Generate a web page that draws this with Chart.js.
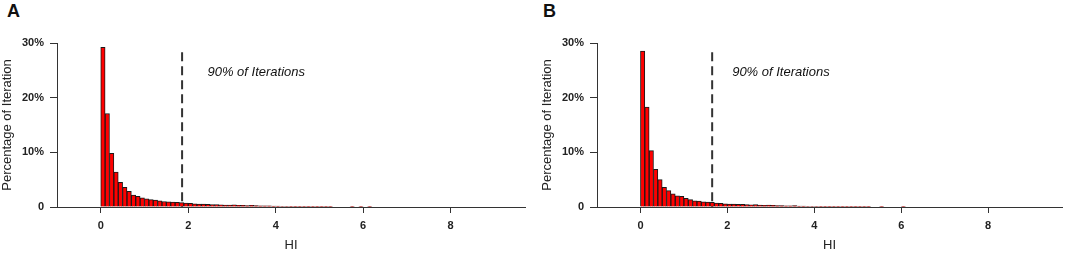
<!DOCTYPE html>
<html>
<head>
<meta charset="utf-8">
<script src="https://cdn.jsdelivr.net/npm/chart.js@4"></script>
<style>
  body { margin: 0; background: #fff; width: 1065px; height: 253px; position: relative; overflow: hidden; }
  .panel { position: absolute; top: 0; }
  .tag { position: absolute; top: 2px; font: bold 18px 'Liberation Sans', Arial, sans-serif; color: #111; line-height: 1; }
</style>
</head>
<body>
<div class="tag" style="left:7px">A</div>
<div class="tag" style="left:543px">B</div>
<div class="panel" style="left:0"><canvas id="chartA" width="532" height="253"></canvas></div>
<div class="panel" style="left:540px"><canvas id="chartB" width="525" height="253"></canvas></div>
<script>
// HI histogram, bins of width 0.1 starting at 0
const binWidth = 0.1;
const xTicks = [0, 2, 4, 6, 8];
const yTicks = [0, 10, 20, 30];

// Panel A: percentage of iterations per bin
const pctA = [29.2, 17.1, 9.8, 6.4, 4.5, 3.6, 2.85, 2.2, 1.95, 1.7, 1.5, 1.35, 1.25, 1.15, 1.0, 0.95, 0.9, 0.85, 0.8,
  0.7, 0.65, 0.6, 0.55, 0.55, 0.5, 0.45, 0.45, 0.4, 0.35, 0.35, 0.4, 0.3, 0.3, 0.25, 0.3, 0.25, 0.2, 0.2, 0.2, 0.15, 0.15, 0.1,
  0.08, 0.07, 0.06, 0.06, 0.05, 0.05, 0.04, 0.04, 0.03, 0.03, 0.03,
  null, null, null, null, 0.02, null, 0.02, null, 0.02, null];
const cutA = 1.86;     // 90% of iterations
const noteXA = 2.44;

// Panel B
const pctB = [28.5, 18.3, 10.3, 6.9, 5.0, 3.6, 3.0, 2.4, 2.05, 1.95, 1.6, 1.35, 1.15, 1.1, 0.95, 0.9, 0.85,
  0.7, 0.65, 0.6, 0.55, 0.55, 0.5, 0.5, 0.45, 0.4, 0.45, 0.35, 0.3, 0.35, 0.3, 0.25, 0.25, 0.2, 0.2, 0.25, 0.15, 0.15, 0.1, 0.1,
  0.08, 0.07, 0.07, 0.06, 0.05, 0.05, 0.04, 0.04, 0.03, 0.03, 0.03, 0.02, 0.02,
  null, null, 0.02, null, null, null, null, 0.02];
const cutB = 1.65;
const noteXB = 2.11;

const cutTop = 28.3;
const noteY = 24.7;
const noteText = '90% of Iterations';

Chart.defaults.font.family = "'Liberation Sans', Arial, sans-serif";
Chart.defaults.color = '#222';

const cutoffPlugin = {
  id: 'cutoff',
  afterDatasetsDraw(chart) {
    const o = chart.options.plugins.cutoff;
    const xs = chart.scales.x, ys = chart.scales.y;
    const ctx = chart.ctx;
    const px = xs.getPixelForValue(o.at);
    ctx.save();
    ctx.strokeStyle = '#333';
    ctx.lineWidth = 2;
    ctx.setLineDash([9, 5]);
    ctx.beginPath();
    ctx.moveTo(px, ys.getPixelForValue(cutTop));
    ctx.lineTo(px, ys.getPixelForValue(0));
    ctx.stroke();
    ctx.setLineDash([]);
    ctx.fillStyle = '#111';
    ctx.font = "italic 13px 'Liberation Sans', Arial, sans-serif";
    ctx.textBaseline = 'middle';
    ctx.fillText(noteText, xs.getPixelForValue(o.noteX), ys.getPixelForValue(noteY));
    ctx.restore();
  }
};

function makePanel(id, pct, cut, noteX, rightPad) {
  const pts = pct.map((v, i) => ({ x: (i + 0.5) * binWidth, y: v }));
  new Chart(document.getElementById(id), {
    type: 'bar',
    data: {
      datasets: [{
        data: pts,
        backgroundColor: '#ff0000',
        borderColor: '#1a1a1a',
        borderWidth: 1,
        barPercentage: 1,
        categoryPercentage: 1
      }]
    },
    options: {
      responsive: false,
      animation: false,
      devicePixelRatio: 1,
      layout: { padding: { left: 0, top: 43, right: rightPad, bottom: 0 } },
      plugins: {
        legend: { display: false },
        tooltip: { enabled: false },
        cutoff: { at: cut, noteX: noteX }
      },
      scales: {
        x: {
          type: 'linear',
          min: -1,
          max: 9.7,
          offset: false,
          afterBuildTicks: s => { s.ticks = xTicks.map(v => ({ value: v })); },
          afterFit: s => { s.height = 46; },
          grid: { drawOnChartArea: false, drawTicks: true, tickLength: 6, color: '#333', offset: false },
          border: { display: true, color: '#333', width: 1 },
          ticks: { font: { size: 11, weight: 'bold' }, color: '#222', padding: 6, maxRotation: 0 },
          title: { display: true, text: 'HI', font: { size: 13 }, color: '#222', padding: { top: 0, bottom: 0 } }
        },
        y: {
          min: 0,
          max: 30,
          afterBuildTicks: s => { s.ticks = yTicks.map(v => ({ value: v })); },
          afterFit: s => { s.width = 57; },
          grid: { drawOnChartArea: false, drawTicks: true, tickLength: 7, color: '#333' },
          border: { display: true, color: '#333', width: 1 },
          ticks: { font: { size: 11, weight: 'bold' }, color: '#222', padding: 6, callback: v => v === 0 ? '0' : v + '%' },
          title: { display: true, text: 'Percentage of Iteration', font: { size: 13 }, color: '#222', padding: { top: 0, bottom: 0 } }
        }
      }
    },
    plugins: [cutoffPlugin]
  });
}

makePanel('chartA', pctA, cutA, noteXA, 7);
makePanel('chartB', pctB, cutB, noteXB, 3);
</script>
</body>
</html>
